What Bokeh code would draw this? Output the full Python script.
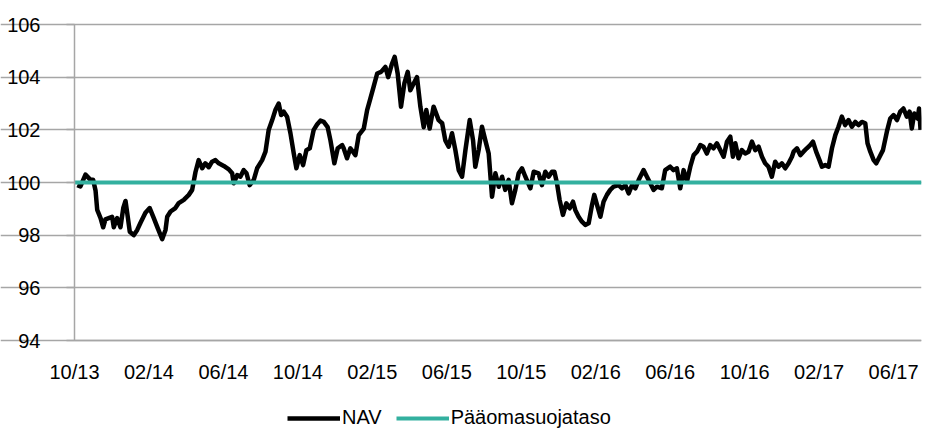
from bokeh.plotting import figure
from bokeh.models import Range1d, FixedTicker, Legend, LegendItem
from bokeh.embed import file_html
from bokeh.resources import INLINE

# months since 10/2013
months = [0.15, 0.32, 0.59, 0.86, 1.0, 1.13, 1.22, 1.40, 1.54, 1.66, 1.84, 2.02, 2.11, 2.29, 2.47,
          2.62, 2.74, 2.86, 2.97, 3.18, 3.37, 3.54, 3.81, 4.04, 4.26, 4.47, 4.71, 4.89, 4.98, 5.16,
          5.42, 5.60, 5.87, 6.14, 6.32, 6.50, 6.67, 6.86, 7.03, 7.21, 7.39, 7.57, 7.75, 8.02, 8.29,
          8.47, 8.55, 8.74, 8.91, 9.09, 9.24, 9.41, 9.63, 9.81, 10.08, 10.26, 10.43, 10.62, 10.79,
          10.97, 11.10, 11.24, 11.42, 11.60, 11.78, 11.92, 12.10, 12.28, 12.46, 12.64, 12.85,
          13.03, 13.21, 13.39, 13.60, 13.75, 13.96, 14.14, 14.38, 14.46, 14.64, 14.82, 15.09,
          15.27, 15.54, 15.72, 15.90, 16.07, 16.26, 16.47, 16.70, 16.85, 17.06, 17.20, 17.36,
          17.54, 17.72, 17.90, 18.04, 18.22, 18.40, 18.58, 18.76, 18.90, 19.08, 19.29, 19.56,
          19.75, 19.92, 20.10, 20.28, 20.46, 20.64, 20.82, 21.00, 21.23, 21.41, 21.53, 21.71,
          21.89, 22.07, 22.25, 22.43, 22.61, 22.79, 22.97, 23.14, 23.32, 23.50, 23.68, 23.86,
          24.04, 24.22, 24.49, 24.67, 24.93, 25.11, 25.29, 25.47, 25.65, 25.78, 25.92, 26.06,
          26.24, 26.42, 26.60, 26.78, 26.90, 27.08, 27.26, 27.44, 27.62, 27.80, 27.92, 28.07,
          28.25, 28.42, 28.60, 28.78, 28.96, 29.23, 29.41, 29.59, 29.77, 29.95, 30.13, 30.31,
          30.57, 30.75, 30.93, 31.11, 31.29, 31.55, 31.73, 32.00, 32.18, 32.36, 32.54, 32.72,
          32.90, 33.08, 33.26, 33.44, 33.62, 33.79, 33.97, 34.15, 34.33, 34.51, 34.69, 34.87,
          35.05, 35.23, 35.37, 35.50, 35.67, 35.85, 36.03, 36.21, 36.39, 36.57, 36.75, 36.93,
          37.10, 37.28, 37.46, 37.64, 37.82, 38.00, 38.18, 38.36, 38.54, 38.63, 38.81, 38.99,
          39.16, 39.34, 39.52, 39.67, 39.84, 40.02, 40.15, 40.33, 40.51, 40.69, 40.87, 41.04,
          41.22, 41.40, 41.58, 41.76, 41.94, 42.12, 42.30, 42.48, 42.60, 42.75, 42.93, 43.07,
          43.25, 43.43, 43.64, 43.82, 44.00, 44.18, 44.36, 44.53, 44.71, 44.86, 44.98, 45.11,
          45.29, 45.37, 45.45]

nav = [99.9, 99.85, 100.3, 100.1, 100.1, 99.7, 98.96, 98.65, 98.3, 98.6, 98.65, 98.7, 98.3, 98.65, 98.3,
       99.03, 99.3, 98.7, 98.13, 98.0, 98.2, 98.46, 98.85, 99.03, 98.65, 98.27, 97.85, 98.2, 98.7, 98.9,
       99.03, 99.22, 99.34, 99.53, 99.72, 100.4, 100.85, 100.54, 100.73, 100.58, 100.79, 100.85, 100.73,
       100.63, 100.5, 100.35, 99.97, 100.28, 100.22, 100.47, 100.35, 99.9, 100.1, 100.54, 100.85, 101.17,
       101.99, 102.37, 102.75, 103.0, 102.56, 102.69, 102.5, 101.87, 101.1, 100.54, 101.04, 100.66,
       101.23, 101.3, 102.0, 102.2, 102.35, 102.3, 102.1, 101.6, 100.73, 101.3, 101.42, 101.3, 100.92,
       101.3, 101.04, 101.8, 102.05, 102.75, 103.2, 103.64, 104.14, 104.2, 104.39, 104.0, 104.52,
       104.77, 104.14, 102.88, 103.76, 104.2, 103.5, 103.76, 104.0, 102.88, 102.1, 102.75, 102.05,
       102.88, 102.37, 102.25, 101.6, 101.36, 101.87, 101.23, 100.47, 100.22, 101.23, 102.37, 101.6,
       100.6, 101.23, 102.12, 101.6, 101.1, 99.46, 100.35, 99.84, 100.22, 99.72, 100.1, 99.21, 99.72,
       100.35, 100.54, 100.22, 99.78, 100.41, 100.35, 99.9, 100.41, 100.22, 100.41, 100.41, 99.97,
       99.34, 98.77, 99.21, 99.02, 99.27, 98.96, 98.7, 98.51, 98.39, 98.45, 99.15, 99.53, 99.15, 98.7,
       99.27, 99.53, 99.72, 99.84, 99.9, 99.78, 99.9, 99.59, 99.9, 99.78, 100.1, 100.47, 100.22, 99.97,
       99.72, 99.84, 99.78, 100.47, 100.6, 100.47, 100.54, 99.78, 100.47, 100.03, 100.6, 101.04, 101.17,
       101.42, 101.36, 101.1, 101.42, 101.3, 101.49, 101.23, 100.98, 101.55, 101.74, 100.98, 101.49,
       100.92, 101.23, 101.1, 101.17, 101.55, 101.23, 101.36, 100.98, 100.73, 100.6, 100.22, 100.79,
       100.6, 100.73, 100.54, 100.73, 100.98, 101.17, 101.3, 101.04, 101.17, 101.3, 101.42, 101.55,
       101.17, 100.85, 100.6, 100.66, 100.6, 101.3, 101.8, 102.12, 102.5, 102.18, 102.37, 102.12,
       102.3, 102.18, 102.3, 102.25, 101.49, 101.17, 100.85, 100.73, 100.98, 101.23, 101.93, 102.43,
       102.56, 102.37, 102.69, 102.81, 102.5, 102.69, 102.05, 102.62, 102.43, 102.81, 102.0]

level_months = [0.0, 45.5]
level = [100.0, 100.0]

tick_months = [0, 4, 8, 12, 16, 20, 24, 28, 32, 36, 40, 44]
tick_labels = ["10/13", "02/14", "06/14", "10/14", "02/15", "06/15", "10/15",
               "02/16", "06/16", "10/16", "02/17", "06/17"]
y_ticks = [94, 96, 98, 100, 102, 104, 106]
y_min, y_max = 94, 106
x_min, x_max = 0, 45.5

FONT = "Liberation Sans"
GRID = "#a6a6a6"
TEAL = "#33b09f"

# The frame covers the whole canvas so that axis labels and legend (drawn inside it) are not clipped.
W, H = 944, 436
PLOT_LEFT, PLOT_RIGHT = 74, 921
PLOT_TOP, PLOT_BOTTOM = 24, 340
x_scale = (x_max - x_min) / (PLOT_RIGHT - PLOT_LEFT)
y_scale = (y_max - y_min) / (PLOT_BOTTOM - PLOT_TOP)
x_lo = x_min - PLOT_LEFT * x_scale
y_lo = y_max - (H - PLOT_TOP) * y_scale
y_hi = y_max + PLOT_TOP * y_scale

p = figure(width=W, height=H, output_backend="svg", toolbar_location=None,
           x_range=Range1d(x_lo, x_max), y_range=Range1d(y_lo, y_hi),
           min_border_left=0, min_border_top=0, min_border_right=W - PLOT_RIGHT,
           min_border_bottom=0)
p.outline_line_color = None
p.background_fill_color = "white"
p.border_fill_color = "white"

p.xgrid.visible = False
p.ygrid.ticker = FixedTicker(ticks=y_ticks)
p.ygrid.bounds = (x_min, x_max)
p.ygrid.grid_line_color = GRID
p.ygrid.grid_line_width = 1.5

p.yaxis.fixed_location = x_min
p.yaxis.ticker = FixedTicker(ticks=y_ticks)
p.yaxis.bounds = (y_min, y_max)
p.yaxis.axis_line_color = GRID
p.yaxis.axis_line_width = 1.5
p.yaxis.major_tick_line_color = GRID
p.yaxis.major_tick_line_width = 1.5
p.yaxis.major_tick_out = 8
p.yaxis.major_tick_in = 0
p.yaxis.minor_tick_line_color = None
p.yaxis.major_label_standoff = 26
p.yaxis.major_label_text_font = FONT
p.yaxis.major_label_text_font_size = "20px"
p.yaxis.major_label_text_color = "black"

p.xaxis.fixed_location = y_min
p.xaxis.ticker = FixedTicker(ticks=tick_months)
p.xaxis.bounds = (x_min, x_max)
p.xaxis.major_label_overrides = {m: l for m, l in zip(tick_months, tick_labels)}
p.xaxis.axis_line_color = GRID
p.xaxis.axis_line_width = 1.5
p.xaxis.major_tick_line_color = None
p.xaxis.minor_tick_line_color = None
p.xaxis.major_tick_out = 0
p.xaxis.major_tick_in = 0
p.xaxis.major_label_standoff = 20
p.xaxis.major_label_text_font = FONT
p.xaxis.major_label_text_font_size = "20px"
p.xaxis.major_label_text_color = "black"

r_nav = p.line(months, nav, line_color="black", line_width=4.5, line_join="round")
r_lvl = p.line(level_months, level, line_color=TEAL, line_width=4)

legend = Legend(items=[LegendItem(label="NAV", renderers=[r_nav]),
                       LegendItem(label="Pääomasuojataso", renderers=[r_lvl])],
                orientation="horizontal", location=(287, 7),
                glyph_width=53, glyph_height=20, label_standoff=2, spacing=14,
                padding=0, margin=0, border_line_color=None, background_fill_alpha=0,
                label_text_font=FONT, label_text_font_size="20px", label_text_color="black")
p.add_layout(legend, "center")

open("out.html", "w").write(file_html(p, INLINE))
